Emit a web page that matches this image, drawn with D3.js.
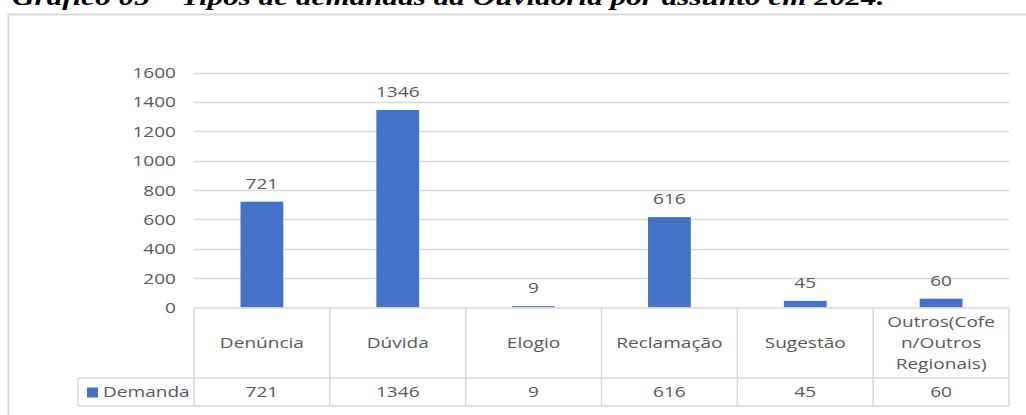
<!DOCTYPE html>
<html>
<head>
<meta charset="utf-8">
<script src="https://cdn.jsdelivr.net/npm/d3@7"></script>
<style>
  body { margin: 0; background: #fff; }
  text { font-family: "Open Sans", sans-serif; fill: #595959; }
</style>
</head>
<body>
<div id="vis"></div>
<script>
// data
var categories = ["Denúncia", "Dúvida", "Elogio", "Reclamação", "Sugestão", "Outros(Cofen/Outros Regionais)"];
var categoryLines = [["Denúncia"], ["Dúvida"], ["Elogio"], ["Reclamação"], ["Sugestão"], ["Outros(Cofe", "n/Outros", "Regionais)"]];
var demanda = [721, 1346, 9, 616, 45, 60];
var yTicks = [0, 200, 400, 600, 800, 1000, 1200, 1400, 1600];
var seriesName = "Demanda";
var title = "Gráfico 05 – Tipos de demandas da Ouvidoria por assunto em 2024.";

var width = 1026, height = 415;
var stretchK = 1.27; // the source image is squeezed wide

var svg = d3.select("#vis").append("svg")
  .attr("width", width)
  .attr("height", height);

// make text wider like in the picture
function stretch(sel, k) {
  sel.each(function() {
    var w = this.getComputedTextLength();
    d3.select(this).attr("textLength", w * k).attr("lengthAdjust", "spacingAndGlyphs");
  });
}

// chart frame
svg.append("rect")
  .attr("x", 8.5).attr("y", 14.5)
  .attr("width", 1030).attr("height", 420)
  .attr("fill", "none").attr("stroke", "#d9d9d9").attr("stroke-width", 2);

// title, cut off at the top
svg.append("text")
  .attr("x", 12).attr("y", 5)
  .style("font-family", "'Liberation Serif', serif")
  .style("font-weight", "bold").style("font-style", "italic")
  .style("font-size", "24px").style("fill", "#000")
  .text(title)
  .call(stretch, 1.3);

var x = d3.scaleBand().domain(categories).range([194, 1009]).padding(0);
var y = d3.scaleLinear().domain([0, 1600]).range([307.5, 72.7]);
var barW = x.bandwidth() * 0.315;

// gridlines
svg.append("g").selectAll("line")
  .data(yTicks.filter(function(d) { return d > 0; }))
  .enter().append("line")
  .attr("x1", 194).attr("x2", 1009)
  .attr("y1", function(d) { return Math.round(y(d)) + 0.5; })
  .attr("y2", function(d) { return Math.round(y(d)) + 0.5; })
  .attr("stroke", "#d9d9d9").attr("stroke-width", 1.5);

// y labels
svg.append("g").selectAll("text")
  .data(yTicks)
  .enter().append("text")
  .attr("x", 176)
  .attr("y", function(d) { return y(d); })
  .attr("dy", "0.36em")
  .attr("text-anchor", "end")
  .style("font-size", "15px")
  .text(function(d) { return d; })
  .call(stretch, stretchK);

// bars
svg.append("g").selectAll("rect")
  .data(demanda)
  .enter().append("rect")
  .attr("x", function(d, i) { return x(categories[i]) + (x.bandwidth() - barW) / 2; })
  .attr("y", function(d) { return y(d); })
  .attr("width", barW)
  .attr("height", function(d) { return y(0) - y(d); })
  .attr("fill", "#4472c4");

// data labels
svg.append("g").selectAll("text")
  .data(demanda)
  .enter().append("text")
  .attr("x", function(d, i) { return x(categories[i]) + x.bandwidth() / 2; })
  .attr("y", function(d) { return y(d) - 13; })
  .attr("text-anchor", "middle")
  .style("font-size", "15px")
  .text(function(d) { return d; })
  .call(stretch, stretchK);

// data table
var rowTop = 308, rowMid = 378, rowBot = 406, legendLeft = 78;
var grid = svg.append("g").attr("stroke", "#d9d9d9").attr("stroke-width", 1.5);
grid.append("line").attr("x1", 194).attr("x2", 1009).attr("y1", rowTop).attr("y2", rowTop);
grid.append("line").attr("x1", legendLeft).attr("x2", 1009).attr("y1", rowMid).attr("y2", rowMid);
grid.append("line").attr("x1", legendLeft).attr("x2", 1009).attr("y1", rowBot).attr("y2", rowBot);
grid.append("line").attr("x1", legendLeft).attr("x2", legendLeft).attr("y1", rowMid).attr("y2", rowBot);
grid.selectAll(".vline")
  .data(categories.concat(["end"]))
  .enter().append("line")
  .attr("class", "vline")
  .attr("x1", function(d) { return d === "end" ? 1009 : x(d); })
  .attr("x2", function(d) { return d === "end" ? 1009 : x(d); })
  .attr("y1", rowTop).attr("y2", rowBot);

// category names
var cats = svg.append("g").selectAll("g")
  .data(categoryLines)
  .enter().append("g");
cats.each(function(lines, i) {
  var cx = x(categories[i]) + x.bandwidth() / 2;
  var lh = 21;
  var y0 = (rowTop + rowMid) / 2 - (lines.length - 1) * lh / 2;
  d3.select(this).selectAll("text")
    .data(lines)
    .enter().append("text")
    .attr("x", cx)
    .attr("y", function(d, j) { return y0 + j * lh; })
    .attr("dy", "0.36em")
    .attr("text-anchor", "middle")
    .style("font-size", "15px")
    .text(function(d) { return d; })
    .call(stretch, stretchK);
});

// values row
svg.append("g").selectAll("text")
  .data(demanda)
  .enter().append("text")
  .attr("x", function(d, i) { return x(categories[i]) + x.bandwidth() / 2; })
  .attr("y", (rowMid + rowBot) / 2)
  .attr("dy", "0.36em")
  .attr("text-anchor", "middle")
  .style("font-size", "15px")
  .text(function(d) { return d; })
  .call(stretch, stretchK);

// legend key
svg.append("rect")
  .attr("x", 87).attr("y", 387.5)
  .attr("width", 11).attr("height", 10)
  .attr("fill", "#4472c4");
svg.append("text")
  .attr("x", 103).attr("y", (rowMid + rowBot) / 2)
  .attr("dy", "0.36em")
  .style("font-size", "15px")
  .text(seriesName)
  .call(stretch, stretchK);
</script>
</body>
</html>
